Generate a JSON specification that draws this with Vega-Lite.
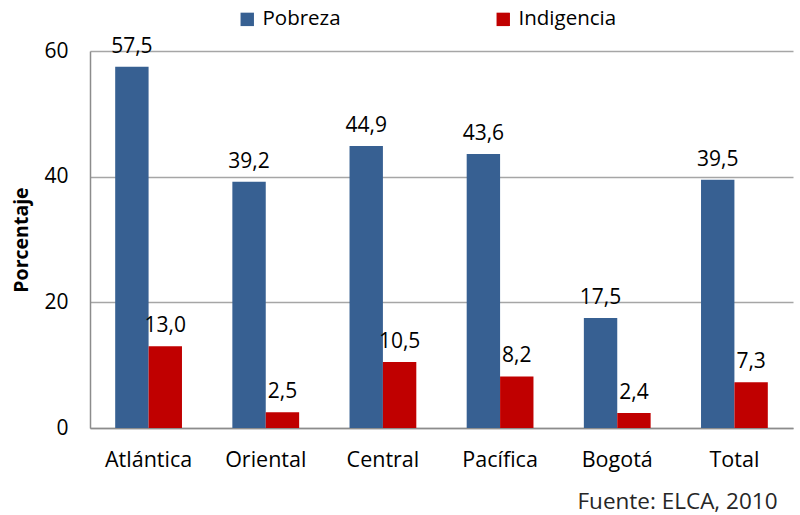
{
  "$schema": "https://vega.github.io/schema/vega-lite/v6.json",
  "autosize": {"type": "none"},
  "width": 703,
  "height": 377,
  "padding": {"left": 90, "top": 51, "right": 7, "bottom": 87},
  "background": "white",
  "config": {
    "font": "Open Sans",
    "view": {"stroke": null},
    "locale": {"number": {"decimal": ",", "thousands": ".", "grouping": [3], "currency": ["", " €"]}}
  },
  "data": {
    "values": [
      {"region": "Atlántica", "serie": "Pobreza", "valor": 57.5},
      {"region": "Atlántica", "serie": "Indigencia", "valor": 13.0},
      {"region": "Oriental", "serie": "Pobreza", "valor": 39.2},
      {"region": "Oriental", "serie": "Indigencia", "valor": 2.5},
      {"region": "Central", "serie": "Pobreza", "valor": 44.9},
      {"region": "Central", "serie": "Indigencia", "valor": 10.5},
      {"region": "Pacífica", "serie": "Pobreza", "valor": 43.6},
      {"region": "Pacífica", "serie": "Indigencia", "valor": 8.2},
      {"region": "Bogotá", "serie": "Pobreza", "valor": 17.5},
      {"region": "Bogotá", "serie": "Indigencia", "valor": 2.4},
      {"region": "Total", "serie": "Pobreza", "valor": 39.5},
      {"region": "Total", "serie": "Indigencia", "valor": 7.3}
    ]
  },
  "encoding": {
    "x": {
      "field": "region", "type": "nominal",
      "sort": ["Atlántica", "Oriental", "Central", "Pacífica", "Bogotá", "Total"],
      "scale": {"paddingInner": 0.43, "paddingOuter": 0.215},
      "axis": {
        "title": "Fuente: ELCA, 2010", "titleAnchor": "end", "titleAlign": "right", "titleX": 687,
        "titleFontSize": 22.5, "titleFontWeight": "normal",
        "titleColor": "#262626", "titlePadding": 20,
        "labelAngle": 0, "labelFontSize": 21.5, "labelColor": "#000000", "labelPadding": 21,
        "ticks": false, "domainColor": "#8c8c8c", "domainWidth": 1.5, "grid": false
      }
    },
    "xOffset": {"field": "serie", "type": "nominal", "sort": ["Pobreza", "Indigencia"], "scale": {"paddingInner": 0, "paddingOuter": 0}},
    "y": {
      "field": "valor", "type": "quantitative",
      "scale": {"domain": [0, 60]},
      "axis": {
        "values": [0, 20, 40, 60], "title": "Porcentaje", "titleFontSize": 19.5, "titleFontWeight": "bold",
        "titleColor": "#000000", "titlePadding": 12,
        "labelFontSize": 21, "labelColor": "#000000", "labelPadding": 22,
        "ticks": false, "domainColor": "#8c8c8c", "domainWidth": 1.5,
        "gridColor": "#a6a6a6", "gridWidth": 1.5
      }
    }
  },
  "layer": [
    {
      "mark": {"type": "bar"},
      "encoding": {
        "color": {
          "field": "serie", "type": "nominal",
          "sort": ["Pobreza", "Indigencia"],
          "scale": {"domain": ["Pobreza", "Indigencia"], "range": ["#376092", "#c00000"]},
          "legend": {
            "title": null, "orient": "none", "direction": "horizontal",
            "legendX": 147, "legendY": -42,
            "symbolType": "square", "symbolSize": 180, "symbolStrokeWidth": 0,
            "labelFontSize": 20.5, "labelColor": "#000000", "labelOffset": 5,
            "columnPadding": 152
          }
        }
      }
    },
    {
      "mark": {"type": "text", "baseline": "bottom", "dy": -10, "fontSize": 21, "color": "#000000"},
      "encoding": {
        "text": {"field": "valor", "type": "quantitative", "format": ".1f"}
      }
    }
  ]
}
